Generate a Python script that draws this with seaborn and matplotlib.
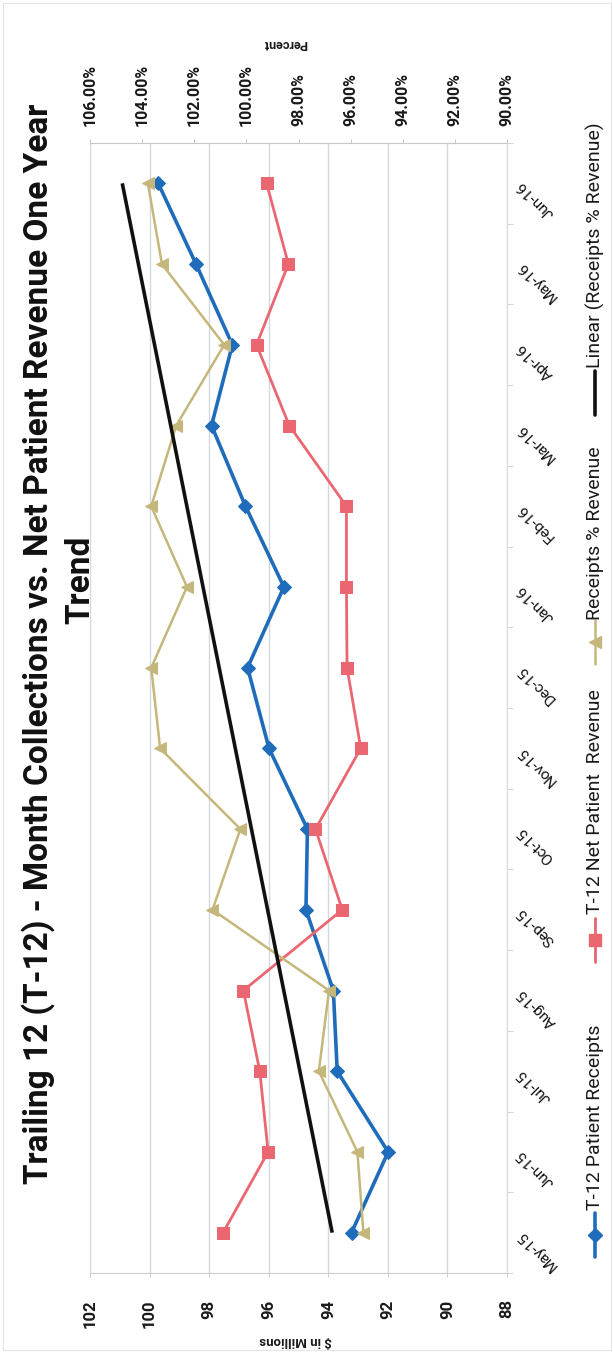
import numpy as np
import pandas as pd
import matplotlib
matplotlib.use("Agg")
import matplotlib.pyplot as plt
from matplotlib.lines import Line2D
from matplotlib.patches import Rectangle
from matplotlib.ticker import FixedLocator
import seaborn as sns

# ---- data -------------------------------------------------------------
months = ["May-15", "Jun-15", "Jul-15", "Aug-15", "Sep-15", "Oct-15", "Nov-15",
          "Dec-15", "Jan-16", "Feb-16", "Mar-16", "Apr-16", "May-16", "Jun-16"]
receipts = [93.22, 91.99, 93.70, 93.83, 94.75, 94.70, 95.99,
            96.71, 95.49, 96.78, 97.92, 97.22, 98.44, 99.71]          # $ millions
net_revenue = [97.53, 96.02, 96.30, 96.85, 93.53, 94.43, 92.91,
               93.37, 93.39, 93.39, 95.31, 96.41, 95.34, 96.07]       # $ millions
receipts_pct = [95.51, 95.74, 97.22, 96.83, 101.30, 100.23, 103.31,
                103.65, 102.28, 103.65, 102.69, 100.85, 103.24, 103.78]  # percent
money_ticks = [88, 90, 92, 94, 96, 98, 100, 102]
pct_ticks = [90, 92, 94, 96, 98, 100, 102, 104, 106]

title_line1 = "Trailing 12 (T-12) - Month Collections vs. Net Patient Revenue One Year"
title_line2 = "Trend"

# ---- styling ----------------------------------------------------------
sns.set_theme(style="white")
plt.rcParams["font.family"] = ["Roboto", "DejaVu Sans"]

W, H = 613, 1363
BLUE, RED, TAN, BLACK = "#1F6DBA", "#EA6670", "#C5B77B", "#111111"
GRID = "#D3D7DE"
TXT = "#1A1A1A"

def fx(x):
    return x / W

def fy(y):
    return 1 - y / H

fig = plt.figure(figsize=(W / 100, H / 100), dpi=100)
fig.patch.set_facecolor("white")

# chart border
fig.add_artist(Rectangle((fx(3), fy(1350)), fx(608), 1347 / H, transform=fig.transFigure,
                         fill=False, edgecolor="#E4E4E4", linewidth=0.8))

df = pd.DataFrame({"month": months, "pos": np.arange(len(months)),
                   "receipts": receipts, "revenue": net_revenue, "pct": receipts_pct})

# the chart is laid out sideways: months run bottom -> top, values right -> left
ax = fig.add_axes([fx(90), fy(1273), (507 - 90) / W, (1273 - 143) / H])
ax.set_facecolor("none")

sns.lineplot(data=df, x="receipts", y="pos", orient="y", ax=ax, color=BLUE,
             linewidth=2.6, marker="D", markersize=7, markeredgecolor=BLUE, errorbar=None)
sns.lineplot(data=df, x="revenue", y="pos", orient="y", ax=ax, color=RED,
             linewidth=2.0, marker="s", markersize=8, markeredgecolor=RED, errorbar=None)

ax.set_xlim(102, 88)
ax.set_ylim(-0.5, len(months) - 0.5)
ax.xaxis.set_major_locator(FixedLocator(money_ticks))
ax.set_xticklabels([str(t) for t in money_ticks], rotation=90, fontsize=12,
                   fontweight="bold", color=TXT)
ax.grid(axis="x", color=GRID, linewidth=1.0)
ax.grid(axis="y", visible=False)
ax.tick_params(axis="x", bottom=True, length=3, width=0.6, color="#C8C8C8", pad=16)
ax.set_xlabel("")
ax.set_ylabel("")

# month labels on the right
ax.yaxis.tick_right()
ax.yaxis.set_major_locator(FixedLocator(np.arange(len(months))))
ax.set_yticklabels(months, rotation=135, rotation_mode="anchor", ha="right", va="center",
                   fontsize=11, color="#111111")
ax.yaxis.set_minor_locator(FixedLocator(np.arange(-0.5, len(months), 1.0)))
ax.tick_params(axis="y", which="major", right=True, length=0, pad=9)
ax.tick_params(axis="y", which="minor", right=True, length=4, width=0.6, color="#CFCFCF")

for side in ["left", "top"]:
    ax.spines[side].set_visible(False)
ax.spines["bottom"].set_color("#CCCCCC")
ax.spines["bottom"].set_linewidth(0.8)
ax.spines["bottom"].set_linestyle((0, (2, 1)))
ax.spines["right"].set_color("#DADADA")
ax.spines["right"].set_linewidth(0.8)

# percent axis along the top
ax2 = ax.twiny()
ax2.set_facecolor("none")
sns.lineplot(data=df, x="pct", y="pos", orient="y", ax=ax2, color=TAN,
             linewidth=1.8, marker="<", markersize=8, markeredgecolor=TAN, errorbar=None)

# linear trend of receipts as a share of revenue
coef = np.polyfit(df["pos"], df["pct"], 1)
trend = np.polyval(coef, df["pos"])
ax2.plot(trend, df["pos"], color=BLACK, linewidth=2.6, solid_capstyle="butt")

ax2.set_xlim(106, 90)
ax2.xaxis.set_major_locator(FixedLocator(pct_ticks))
ax2.set_xticklabels([f"{t:.2f}%" for t in pct_ticks], rotation=90, fontsize=11.5,
                    fontweight="bold", color=TXT)
ax2.tick_params(axis="x", top=True, length=3, width=0.6, color="#BDBDBD", pad=9)
ax2.grid(False)
ax2.set_xlabel("")
ax2.set_ylabel("")
for side in ["left", "right", "bottom"]:
    ax2.spines[side].set_visible(False)
ax2.spines["top"].set_color("#C8C8C8")
ax2.spines["top"].set_linewidth(0.8)
ax2.yaxis.set_visible(False)

# axis titles (turned with the chart)
fig.text(fx(296), fy(1340), "$ in Millions", rotation=180, ha="center", va="center",
         fontsize=9.5, fontweight="bold", color=TXT)
fig.text(fx(285), fy(43), "Percent", rotation=180, ha="center", va="center",
         fontsize=9, fontweight="bold", color=TXT)

# chart title
fig.text(fx(38), fy(644), title_line1, rotation=90, ha="center", va="center",
         fontsize=24, fontweight="bold", color="#111111")
fig.text(fx(80), fy(580), title_line2, rotation=90, ha="center", va="center",
         fontsize=24, fontweight="bold", color="#111111")

# legend
LX = 595
def legend_entry(y_mark, y_text, label, color, marker, lw, ms):
    fig.add_artist(Line2D([fx(LX), fx(LX)], [fy(y_mark + 22), fy(y_mark - 22)],
                          transform=fig.transFigure, color=color, linewidth=lw))
    if marker:
        fig.add_artist(Line2D([fx(LX)], [fy(y_mark)], transform=fig.transFigure,
                              color=color, marker=marker, markersize=ms,
                              markeredgecolor=color, linestyle="none"))
    fig.text(fx(LX), fy(y_text), label, rotation=90, ha="center", va="bottom",
             fontsize=14, color=TXT)

legend_entry(1235, 1210, "T-12 Patient Receipts", BLUE, "D", 2.6, 7)
legend_entry(940, 914, "T-12 Net Patient  Revenue", RED, "s", 2.0, 8)
legend_entry(642, 620, "Receipts % Revenue", TAN, "<", 1.8, 8)
legend_entry(393, 368, "Linear (Receipts % Revenue)", BLACK, None, 2.6, 0)

fig.savefig("out.png", dpi=100, facecolor="white")
